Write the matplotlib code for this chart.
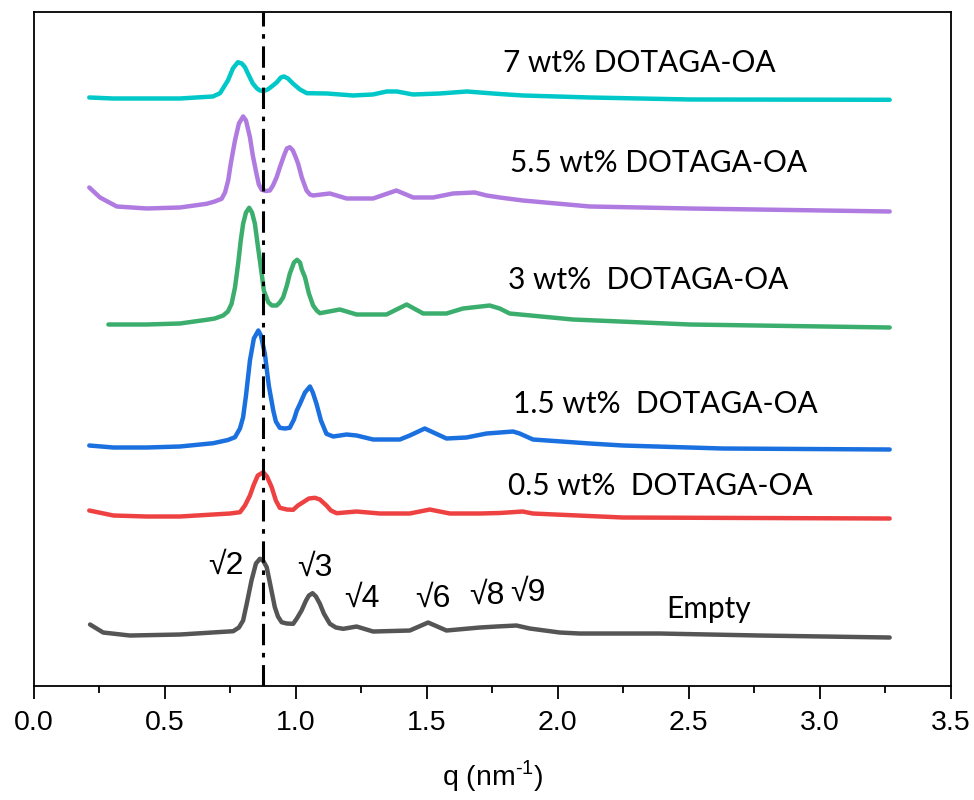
import numpy as np
import matplotlib
matplotlib.use("Agg")
import matplotlib.pyplot as plt

plt.rcParams["mathtext.fontset"] = "custom"
plt.rcParams["mathtext.rm"] = "Liberation Sans"

# SAXS curves, stacked with offsets (arbitrary intensity units)
q_7 = [0.212, 0.302, 0.432, 0.558, 0.684, 0.711, 0.741, 0.760, 0.779, 0.794, 0.806, 0.821, 0.836,
       0.852, 0.863, 0.878, 0.893, 0.913, 0.928, 0.943, 0.955, 0.970, 0.989, 1.016, 1.042,
       1.119, 1.218, 1.294, 1.347, 1.386, 1.447, 1.550, 1.653, 1.702, 1.778, 1.866, 2.122, 2.503, 3.266]
i_7 = [588, 587, 587, 587, 589, 592.3, 605, 617, 623.3, 622, 618.3, 610, 602,
       597, 595, 594.5, 596, 600, 603.3, 608, 609, 607, 602, 596, 592.3,
       592, 590, 591, 594, 594, 591, 592, 594, 593, 591.5, 590, 588, 586, 585.7]

q_55 = [0.212, 0.253, 0.317, 0.431, 0.558, 0.660, 0.691, 0.717, 0.730, 0.742, 0.752, 0.768, 0.783,
        0.799, 0.810, 0.825, 0.836, 0.850, 0.859, 0.870, 0.886, 0.901, 0.913, 0.927, 0.939, 0.955,
        0.966, 0.977, 0.989, 1.000, 1.009, 1.023, 1.041, 1.054, 1.066,
        1.130, 1.194, 1.295, 1.384, 1.448, 1.524, 1.600, 1.683, 1.728, 1.778, 1.866, 2.122, 2.503, 3.266]
i_55 = [498, 488, 479, 477, 478, 481.7, 484, 486.7, 493, 505, 522, 545, 562,
        569, 565, 548.3, 530, 511.7, 501, 495.7, 494.5, 495, 500, 508.3, 518, 530,
        537, 538.3, 535, 528, 521.7, 508, 495, 491, 490,
        492, 487, 487, 495, 488, 488, 492, 493, 490, 488, 485, 479, 477, 474]

q_3 = [0.285, 0.431, 0.558, 0.660, 0.691, 0.723, 0.741, 0.755, 0.768, 0.780, 0.790, 0.799, 0.810,
       0.822, 0.833, 0.844, 0.855, 0.870, 0.878, 0.895, 0.909, 0.927, 0.939, 0.952, 0.966, 0.977,
       0.993, 1.005, 1.016, 1.023, 1.035, 1.050, 1.066, 1.080, 1.092,
       1.168, 1.232, 1.346, 1.423, 1.486, 1.575, 1.638, 1.740, 1.778, 1.816, 2.057, 2.503, 3.266]
i_3 = [361, 361, 362, 365.7, 367, 370, 374, 381.7, 398, 421.7, 445, 461.7, 473,
       477.7, 473, 461.7, 440, 411.7, 395, 383.3, 380, 380, 383, 388.3, 400, 411.7,
       423, 425.7, 423, 416, 408.3, 392, 380, 375, 372.3,
       376, 371, 371, 381, 372, 372, 377, 380, 377, 372, 366, 361, 358]

q_15 = [0.212, 0.304, 0.431, 0.558, 0.685, 0.741, 0.768, 0.787, 0.799, 0.810, 0.825, 0.840, 0.857,
        0.867, 0.882, 0.897, 0.914, 0.924, 0.939, 0.958, 0.977, 0.993, 1.004, 1.016, 1.035, 1.054,
        1.065, 1.079, 1.096, 1.117, 1.143,
        1.194, 1.232, 1.295, 1.397, 1.435, 1.492, 1.575, 1.651, 1.728, 1.829, 1.854, 1.905, 2.122,
        2.248, 2.629, 3.266]
i_15 = [240, 238, 238, 239, 242.3, 245.5, 248.3, 257, 268.3, 290, 325, 347, 355,
        350, 331.7, 300, 275, 264, 257.7, 257, 257.7, 266, 275, 281.7, 293, 299,
        293, 281.7, 265, 251.7, 249,
        251, 250, 246, 246, 250, 257, 247, 248, 252, 254, 252, 246, 242,
        240, 237, 236]

q_05 = [0.212, 0.304, 0.431, 0.558, 0.685, 0.749, 0.787, 0.806, 0.825, 0.840, 0.855, 0.876, 0.890,
        0.908, 0.924, 0.939, 0.966, 0.990, 1.008, 1.028, 1.050, 1.073, 1.092, 1.117, 1.134, 1.156,
        1.232, 1.321, 1.435, 1.511, 1.588, 1.702, 1.778, 1.866, 1.904, 2.248, 3.266]
i_05 = [175, 170, 169, 169, 171, 172, 173.3, 180, 190, 201, 210, 213.3, 209,
        198.3, 185, 177.7, 176, 175.7, 180, 183.3, 187, 187.7, 186, 180, 175, 172.3,
        174, 172, 172, 176, 172, 172, 172.5, 174, 172, 168, 167]

q_empty = [0.215, 0.265, 0.367, 0.558, 0.761, 0.783, 0.799, 0.813, 0.831, 0.848, 0.863, 0.875, 0.889,
           0.901, 0.920, 0.932, 0.946, 0.966, 0.990, 1.004, 1.022, 1.039, 1.050, 1.064, 1.077, 1.092,
           1.107, 1.130, 1.153, 1.181,
           1.232, 1.295, 1.435, 1.505, 1.575, 1.702, 1.766, 1.842, 1.893, 2.007, 2.083, 2.388, 2.770, 3.266]
i_empty = [61, 53, 50, 51, 54.3, 58, 65, 82, 105, 122, 126.7, 125, 118.3,
           103, 78.3, 69, 63.3, 62, 61.7, 67, 75, 85, 90, 92.3, 89, 81.7,
           72, 61.7, 58, 56.7,
           59, 54, 55, 63, 55, 58, 59, 60, 57, 53, 52, 52, 50, 48]

curves = [
    (q_7, i_7, "#00C8C8", "7 wt% DOTAGA-OA", 1.791, 622),
    (q_55, i_55, "#B07BE0", "5.5 wt% DOTAGA-OA", 1.817, 522),
    (q_3, i_3, "#3BAE6E", "3 wt%  DOTAGA-OA", 1.810, 405),
    (q_15, i_15, "#1B70E0", "1.5 wt%  DOTAGA-OA", 1.829, 282),
    (q_05, i_05, "#EE4242", "0.5 wt%  DOTAGA-OA", 1.810, 200),
    (q_empty, i_empty, "#555555", "Empty", 2.412, 77),
]

peak_labels = ["\u221a2", "\u221a3", "\u221a4", "\u221a6", "\u221a8", "\u221a9"]
peak_q = [0.732, 1.073, 1.251, 1.523, 1.728, 1.885]
peak_i = [120, 118, 87, 87, 90, 93]

q_ref = 0.874

fig = plt.figure(figsize=(9.74, 8), dpi=100)
ax = fig.add_axes([0.0346, 0.1431, 0.9418, 0.8413])

for q, inten, col, lab, tx, ty in curves:
    ax.plot(q, inten, color=col, lw=3.2, solid_joinstyle="round", solid_capstyle="round")
    ax.text(tx, ty, lab, fontsize=21.5, family=["Lato", "DejaVu Sans"], va="center", ha="left")

for lab, x, y in zip(peak_labels, peak_q, peak_i):
    ax.text(x, y, lab, fontsize=23, family=["Liberation Sans", "DejaVu Sans"], ha="center", va="center")

ax.axvline(q_ref, color="black", lw=2.2, linestyle=(0, (7, 2.5, 1.5, 2.5)))

ax.set_xlim(0, 3.5)
ax.set_ylim(0, 673)
ax.set_xticks(np.arange(0, 3.51, 0.5))
ax.set_xticks(np.arange(0.25, 3.5, 0.5), minor=True)
ax.set_yticks([])
ax.tick_params(axis="x", which="major", direction="out", length=9.5, width=1.3, pad=8, labelsize=20.5)
ax.tick_params(axis="x", which="minor", direction="out", length=5, width=1.3)
for lbl in ax.get_xticklabels():
    lbl.set_family(["Liberation Sans", "DejaVu Sans"])
for sp in ax.spines.values():
    sp.set_linewidth(1.3)

ax.set_xlabel("q (nm$^{\\text{-1}}$)", fontsize=20.5, family=["Liberation Sans", "DejaVu Sans"],
              labelpad=16)

fig.savefig("out.png", dpi=100)
